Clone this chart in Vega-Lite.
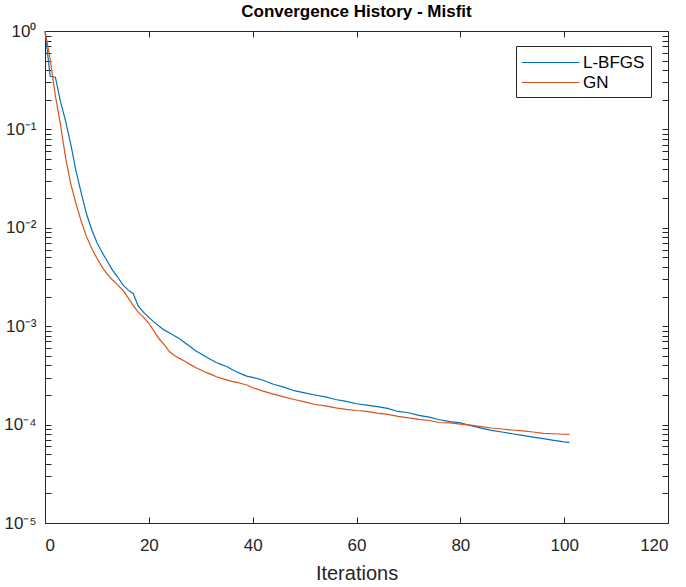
{
  "$schema": "https://vega.github.io/schema/vega-lite/v6.json",
  "autosize": "none",
  "width": 623,
  "height": 492,
  "padding": {"left": 45, "top": 31, "right": 18, "bottom": 64},
  "background": "white",
  "config": {
    "font": "Liberation Sans",
    "view": {"stroke": null},
    "axis": {"grid": false, "domainColor": "#262626", "tickColor": "#262626", "labelColor": "#262626", "titleColor": "#262626", "domainWidth": 1, "tickWidth": 1}
  },
  "title": {"text": "Convergence History - Misfit", "fontSize": 17, "fontWeight": "bold", "color": "#000000", "anchor": "middle", "frame": "group", "offset": 1.5},
  "data": {"values": [
    {"i": 0, "L-BFGS": 1, "GN": 1},
    {"i": 1, "L-BFGS": 0.347, "GN": 0.513},
    {"i": 2, "L-BFGS": 0.339, "GN": 0.219},
    {"i": 3, "L-BFGS": 0.19, "GN": 0.11},
    {"i": 4, "L-BFGS": 0.12, "GN": 0.0501},
    {"i": 5, "L-BFGS": 0.0692, "GN": 0.0275},
    {"i": 6, "L-BFGS": 0.0372, "GN": 0.0174},
    {"i": 7, "L-BFGS": 0.0224, "GN": 0.0115},
    {"i": 8, "L-BFGS": 0.0138, "GN": 0.00813},
    {"i": 9, "L-BFGS": 0.00955, "GN": 0.00617},
    {"i": 10, "L-BFGS": 0.00708, "GN": 0.0049},
    {"i": 11, "L-BFGS": 0.00562, "GN": 0.00398},
    {"i": 12, "L-BFGS": 0.00457, "GN": 0.00339},
    {"i": 13, "L-BFGS": 0.00372, "GN": 0.00295},
    {"i": 14, "L-BFGS": 0.00316, "GN": 0.00263},
    {"i": 15, "L-BFGS": 0.00263, "GN": 0.00232},
    {"i": 16, "L-BFGS": 0.00234, "GN": 0.00195},
    {"i": 17, "L-BFGS": 0.00214, "GN": 0.00162},
    {"i": 18, "L-BFGS": 0.00159, "GN": 0.00138},
    {"i": 19, "L-BFGS": 0.00138, "GN": 0.00123},
    {"i": 20, "L-BFGS": 0.00123, "GN": 0.00107},
    {"i": 21, "L-BFGS": 0.0011, "GN": 0.000891},
    {"i": 22, "L-BFGS": 0.001, "GN": 0.000741},
    {"i": 23, "L-BFGS": 0.000912, "GN": 0.000646},
    {"i": 24, "L-BFGS": 0.000851, "GN": 0.00055},
    {"i": 25, "L-BFGS": 0.000794, "GN": 0.000501},
    {"i": 26, "L-BFGS": 0.000741, "GN": 0.000468},
    {"i": 27, "L-BFGS": 0.000676, "GN": 0.000437},
    {"i": 28, "L-BFGS": 0.000617, "GN": 0.000407},
    {"i": 29, "L-BFGS": 0.000562, "GN": 0.00038},
    {"i": 30, "L-BFGS": 0.000525, "GN": 0.000359},
    {"i": 31, "L-BFGS": 0.00049, "GN": 0.000339},
    {"i": 32, "L-BFGS": 0.000457, "GN": 0.000324},
    {"i": 33, "L-BFGS": 0.000427, "GN": 0.000306},
    {"i": 34, "L-BFGS": 0.000407, "GN": 0.000295},
    {"i": 35, "L-BFGS": 0.000389, "GN": 0.000285},
    {"i": 36, "L-BFGS": 0.000363, "GN": 0.000275},
    {"i": 37, "L-BFGS": 0.000343, "GN": 0.000269},
    {"i": 38, "L-BFGS": 0.000324, "GN": 0.00026},
    {"i": 39, "L-BFGS": 0.000309, "GN": 0.000251},
    {"i": 40, "L-BFGS": 0.000302, "GN": 0.000237},
    {"i": 42, "L-BFGS": 0.000282, "GN": 0.000219},
    {"i": 44, "L-BFGS": 0.000257, "GN": 0.000204},
    {"i": 46, "L-BFGS": 0.00024, "GN": 0.000191},
    {"i": 48, "L-BFGS": 0.000221, "GN": 0.00018},
    {"i": 50, "L-BFGS": 0.00021, "GN": 0.00017},
    {"i": 52, "L-BFGS": 0.0002, "GN": 0.00016},
    {"i": 54, "L-BFGS": 0.000191, "GN": 0.000155},
    {"i": 56, "L-BFGS": 0.00018, "GN": 0.000148},
    {"i": 58, "L-BFGS": 0.000172, "GN": 0.000143},
    {"i": 60, "L-BFGS": 0.000163, "GN": 0.000139},
    {"i": 62, "L-BFGS": 0.000158, "GN": 0.000136},
    {"i": 64, "L-BFGS": 0.000152, "GN": 0.000131},
    {"i": 66, "L-BFGS": 0.000146, "GN": 0.000127},
    {"i": 68, "L-BFGS": 0.000136, "GN": 0.000121},
    {"i": 70, "L-BFGS": 0.000132, "GN": 0.000117},
    {"i": 72, "L-BFGS": 0.000124, "GN": 0.000113},
    {"i": 74, "L-BFGS": 0.000119, "GN": 0.00011},
    {"i": 76, "L-BFGS": 0.000112, "GN": 0.000105},
    {"i": 78, "L-BFGS": 0.000107, "GN": 0.000104},
    {"i": 80, "L-BFGS": 0.000104, "GN": 0.000101},
    {"i": 82, "L-BFGS": 0.0000977, "GN": 0.0000986},
    {"i": 84, "L-BFGS": 0.000092, "GN": 0.0000955},
    {"i": 86, "L-BFGS": 0.0000875, "GN": 0.0000923},
    {"i": 88, "L-BFGS": 0.0000841, "GN": 0.0000902},
    {"i": 90, "L-BFGS": 0.0000807, "GN": 0.0000881},
    {"i": 92, "L-BFGS": 0.0000776, "GN": 0.0000863},
    {"i": 94, "L-BFGS": 0.0000745, "GN": 0.0000841},
    {"i": 96, "L-BFGS": 0.0000719, "GN": 0.0000815},
    {"i": 98, "L-BFGS": 0.0000692, "GN": 0.0000807},
    {"i": 100, "L-BFGS": 0.0000667, "GN": 0.0000798},
    {"i": 101, "L-BFGS": 0.0000659, "GN": 0.0000794}
  ]},
  "transform": [{"fold": ["L-BFGS", "GN"], "as": ["s", "v"]}],
  "layer": [
    {
      "mark": {"type": "line", "strokeWidth": 1.2},
      "encoding": {
        "x": {"field": "i", "type": "quantitative",
          "scale": {"domain": [0, 120], "nice": false, "zero": false},
          "axis": {"orient": "bottom", "values": [0, 20, 40, 60, 80, 100, 120], "tickSize": -6, "labelPadding": 20, "labelFontSize": 17, "title": "Iterations", "titleFontSize": 20, "titleFontWeight": "normal", "titlePadding": 10}},
        "y": {"field": "v", "type": "quantitative",
          "scale": {"type": "log", "domain": [0.00001, 1], "nice": false},
          "axis": {"orient": "left", "title": null, "labelFontSize": 17, "labelPadding": 15, "tickSize": -6,
            "values": [0.00001, 0.00002, 0.00003, 0.00004, 0.00005, 0.00006, 0.00007, 0.00008, 0.00009, 0.0001, 0.0002, 0.0003, 0.0004, 0.0005, 0.0006, 0.0007, 0.0008, 0.0009, 0.001, 0.002, 0.003, 0.004, 0.005, 0.006, 0.007, 0.008, 0.009, 0.01, 0.02, 0.03, 0.04, 0.05, 0.06, 0.07, 0.08, 0.09, 0.1, 0.2, 0.3, 0.4, 0.5, 0.6, 0.7, 0.8, 0.9, 1],
            "labelExpr": "datum.value==1?'10⁰':datum.value==0.1?'10⁻¹':datum.value==0.01?'10⁻²':datum.value==0.001?'10⁻³':datum.value==0.0001?'10⁻⁴':datum.value==0.00001?'10⁻⁵':''",
            "encode": {"ticks": {"update": {"x2": {"signal": "(datum.value==1||datum.value==0.1||datum.value==0.01||datum.value==0.001||datum.value==0.0001||datum.value==0.00001) ? 6 : 3"}}}}}},
        "color": {"field": "s", "type": "nominal",
          "scale": {"domain": ["L-BFGS", "GN"], "range": ["#0072BD", "#D95319"]},
          "legend": {"orient": "none", "legendX": 471, "legendY": 15, "title": null,
            "symbolType": "M-3,0H3", "symbolSize": 369, "symbolStrokeWidth": 1.2, "symbolOffset": 18,
            "labelOffset": 22, "labelFontSize": 17, "labelColor": "#000000", "labelFont": "Liberation Sans",
            "padding": 6, "rowPadding": 1, "strokeColor": "#262626", "fillColor": "white", "cornerRadius": 0}}
      }
    },
    {
      "mark": {"type": "line", "opacity": 0},
      "encoding": {
        "x": {"field": "i", "type": "quantitative",
          "scale": {"domain": [0, 120], "nice": false, "zero": false},
          "axis": {"orient": "top", "values": [0, 20, 40, 60, 80, 100, 120], "tickSize": -6, "labels": false, "title": null}},
        "y": {"field": "v", "type": "quantitative",
          "scale": {"type": "log", "domain": [0.00001, 1], "nice": false},
          "axis": {"orient": "right", "title": null, "labels": false, "tickSize": -6,
            "values": [0.00001, 0.00002, 0.00003, 0.00004, 0.00005, 0.00006, 0.00007, 0.00008, 0.00009, 0.0001, 0.0002, 0.0003, 0.0004, 0.0005, 0.0006, 0.0007, 0.0008, 0.0009, 0.001, 0.002, 0.003, 0.004, 0.005, 0.006, 0.007, 0.008, 0.009, 0.01, 0.02, 0.03, 0.04, 0.05, 0.06, 0.07, 0.08, 0.09, 0.1, 0.2, 0.3, 0.4, 0.5, 0.6, 0.7, 0.8, 0.9, 1],
            "encode": {"ticks": {"update": {"x2": {"signal": "(datum.value==1||datum.value==0.1||datum.value==0.01||datum.value==0.001||datum.value==0.0001||datum.value==0.00001) ? -6 : -3"}}}}}},
        "detail": {"field": "s", "type": "nominal"}
      }
    }
  ],
  "resolve": {"scale": {"x": "independent", "y": "independent"}}
}
